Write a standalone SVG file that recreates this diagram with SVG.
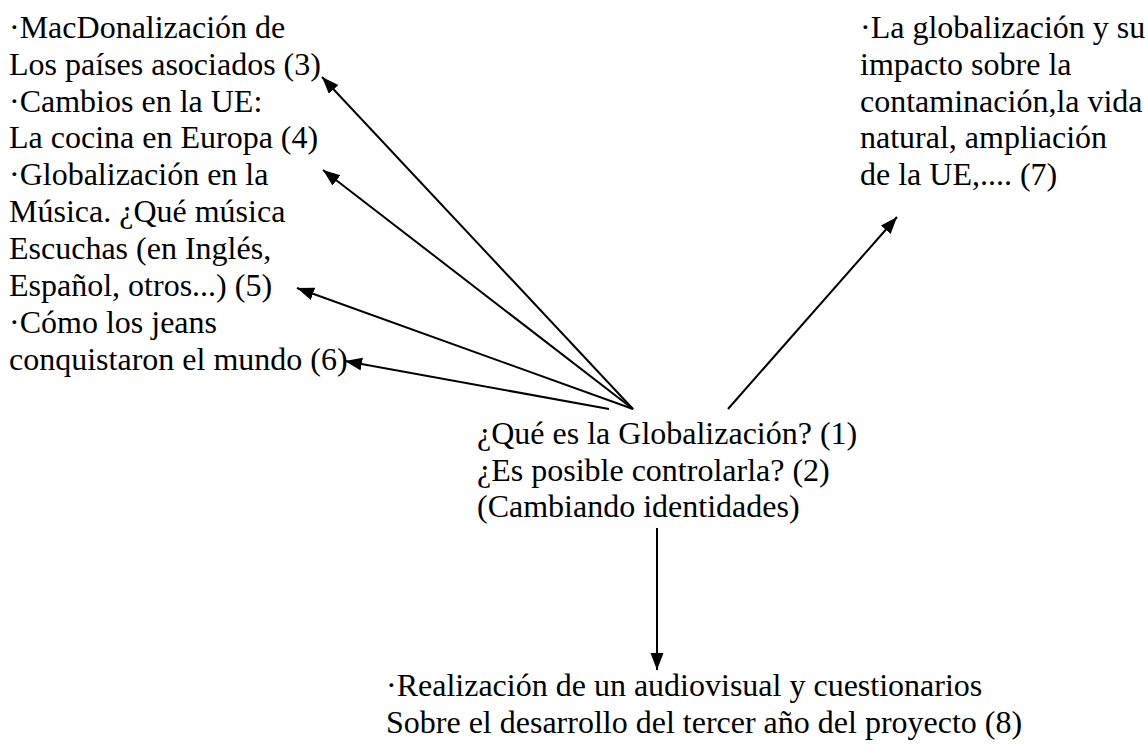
<svg xmlns="http://www.w3.org/2000/svg" width="1145" height="745" viewBox="0 0 1145 745">
<style>
  .t { font-family: "Times New Roman", "Liberation Serif", Tinos, "Noto Serif", serif; font-size: 32px; fill: #000; }
  .c { stroke: #000; stroke-width: 2; fill: none; marker-end: url(#ah); }
</style>
<defs>
  <marker id="ah" markerUnits="userSpaceOnUse" markerWidth="18" markerHeight="14" refX="17" refY="6.5" orient="auto">
    <path d="M0,0 L17,6.5 L0,13 z" fill="#000"/>
  </marker>
</defs>
<rect width="1145" height="745" fill="#fff"/>
<g id="node-left">
  <text class="t" x="9" y="38">·MacDonalización de</text>
  <text class="t" x="9" y="75">Los países asociados (3)</text>
  <text class="t" x="9" y="112">·Cambios en la UE:</text>
  <text class="t" x="9" y="148">La cocina en Europa (4)</text>
  <text class="t" x="9" y="185">·Globalización en la</text>
  <text class="t" x="9" y="222">Música. ¿Qué música</text>
  <text class="t" x="9" y="259">Escuchas (en Inglés,</text>
  <text class="t" x="9" y="296">Español, otros...) (5)</text>
  <text class="t" x="9" y="333">·Cómo los jeans</text>
  <text class="t" x="9" y="370">conquistaron el mundo (6)</text>
</g>
<g id="node-right">
  <text class="t" x="860" y="38">·La globalización y su</text>
  <text class="t" x="860" y="75">impacto sobre la</text>
  <text class="t" x="860" y="112">contaminación,la vida</text>
  <text class="t" x="860" y="148">natural, ampliación</text>
  <text class="t" x="860" y="185">de la UE,.... (7)</text>
</g>
<g id="node-center">
  <text class="t" x="477" y="444">¿Qué es la Globalización? (1)</text>
  <text class="t" x="477" y="481">¿Es posible controlarla? (2)</text>
  <text class="t" x="477" y="517">(Cambiando identidades)</text>
</g>
<g id="node-bottom">
  <text class="t" x="386" y="696">·Realización de un audiovisual y cuestionarios</text>
  <text class="t" x="386" y="733">Sobre el desarrollo del tercer año del proyecto (8)</text>
</g>
<g id="connectors">
  <line class="c" x1="633" y1="409" x2="322" y2="77"/>
  <line class="c" x1="633" y1="409" x2="323" y2="170"/>
  <line class="c" x1="633" y1="409" x2="297" y2="288"/>
  <line class="c" x1="609" y1="409" x2="345" y2="361"/>
  <line class="c" x1="728" y1="409" x2="897" y2="217"/>
  <line class="c" x1="657" y1="528" x2="657" y2="670"/>
</g>
</svg>
